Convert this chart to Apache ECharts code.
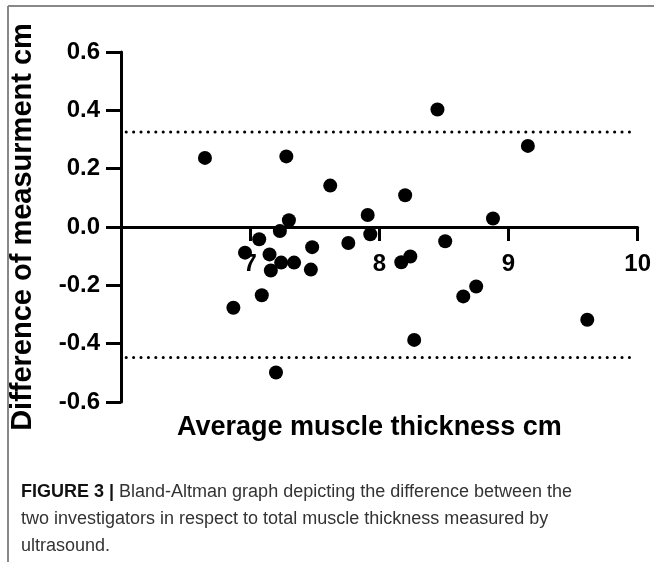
<!DOCTYPE html>
<html>
<head>
<meta charset="utf-8">
<script src="https://cdn.jsdelivr.net/npm/echarts@6/dist/echarts.min.js"></script>
<style>
  html, body { margin: 0; padding: 0; background: #fff; }
  #chart { width: 654px; height: 562px; }
</style>
</head>
<body>
<div id="chart"></div>
<script>
// average of the two measurements (cm)
var avgThickness = [6.65, 6.87, 6.96, 7.07, 7.09, 7.15, 7.16, 7.20, 7.23, 7.24,
                    7.28, 7.30, 7.34, 7.47, 7.48, 7.62, 7.76, 7.91, 7.93, 8.17,
                    8.20, 8.24, 8.27, 8.45, 8.51, 8.65, 8.75, 8.88, 9.15, 9.61];
// difference between the two investigators (cm)
var diffMeasure = [0.237, -0.277, -0.088, -0.042, -0.234, -0.094, -0.149, -0.499, -0.014, -0.122,
                   0.242, 0.023, -0.122, -0.146, -0.069, 0.142, -0.055, 0.041, -0.025, -0.121,
                   0.109, -0.101, -0.387, 0.403, -0.049, -0.238, -0.204, 0.029, 0.278, -0.318];
// limits of agreement
var limits = [0.326, -0.447];
var limitRange = [6.04, 9.97];
var xTicks = [7, 8, 9, 10];

var chart = echarts.init(document.getElementById("chart"));

var points = avgThickness.map(function(x, i) { return [x, diffMeasure[i]]; });

var limitSeries = limits.map(function(v) {
  return {
    type: "line",
    data: [[limitRange[0], v], [limitRange[1], v]],
    symbol: "none",
    silent: true,
    lineStyle: { color: "#000", width: 3, type: [0.1, 7.3], cap: "round" },
    z: 1
  };
});

var font = "'Liberation Sans', Arial, sans-serif";

var option = {
  animation: false,
  grid: { left: 120, right: 12, top: 52, bottom: 160 },
  xAxis: {
    type: "value",
    min: 6,
    max: 10,
    interval: 1,
    // axis sits on the zero line (middle of the symmetric y range)
    offset: -175,
    axisLine: { onZero: false, lineStyle: { color: "#000", width: 3 } },
    axisTick: { customValues: xTicks, length: 14, lineStyle: { color: "#000", width: 3 } },
    axisLabel: {
      customValues: xTicks,
      margin: 25,
      color: "#000",
      fontFamily: font,
      fontWeight: "bold",
      fontSize: 24
    },
    splitLine: { show: false }
  },
  yAxis: {
    type: "value",
    min: -0.6,
    max: 0.6,
    interval: 0.2,
    name: "Difference of measurment cm",
    nameLocation: "middle",
    nameGap: 84,
    nameTextStyle: { color: "#000", fontFamily: font, fontWeight: "bold", fontSize: 29 },
    axisLine: { onZero: false, lineStyle: { color: "#000", width: 3 } },
    axisTick: { length: 15, lineStyle: { color: "#000", width: 3 } },
    axisLabel: {
      margin: 21,
      color: "#000",
      fontFamily: font,
      fontWeight: "bold",
      fontSize: 24,
      formatter: function(v) { return v.toFixed(1); }
    },
    splitLine: { show: false }
  },
  graphic: [
    { type: "line", shape: { x1: 8, y1: 6, x2: 654, y2: 6 }, style: { stroke: "#888", lineWidth: 2 } },
    { type: "line", shape: { x1: 8, y1: 6, x2: 8, y2: 562 }, style: { stroke: "#888", lineWidth: 2 } },
    {
      type: "text",
      left: 177,
      top: 414,
      style: {
        text: "Average muscle thickness cm",
        font: "bold 27px " + font,
        fill: "#000"
      }
    },
    {
      type: "text",
      left: 21,
      top: 479,
      style: {
        text: "{b|FIGURE 3 |} Bland-Altman graph depicting the difference between the\ntwo investigators in respect to total muscle thickness measured by\nultrasound.",
        font: "18px " + font,
        fill: "#333",
        lineHeight: 27,
        rich: {
          b: { font: "bold 18px " + font, fill: "#111", lineHeight: 27 }
        }
      }
    }
  ],
  series: limitSeries.concat([
    {
      type: "scatter",
      data: points,
      symbolSize: 14,
      itemStyle: { color: "#000", opacity: 1 },
      z: 3
    }
  ])
};

chart.setOption(option);
</script>
</body>
</html>
